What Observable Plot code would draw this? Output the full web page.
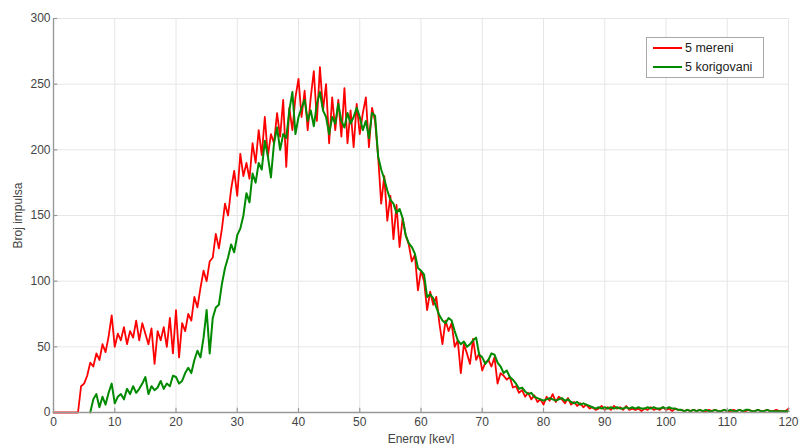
<!DOCTYPE html>
<html>
<head>
<meta charset="utf-8">
<script src="https://cdn.jsdelivr.net/npm/d3@7"></script>
<script src="https://cdn.jsdelivr.net/npm/@observablehq/plot@0.6"></script>
<style>
  html, body { margin: 0; padding: 0; background: #fff; }
  #wrap { position: relative; width: 800px; height: 444px; font-family: "Liberation Sans", Arial, sans-serif; }
  #legend { position: absolute; left: 646px; top: 37px; width: 116px; height: 39px; border: 1px solid #a8a8a8; background: #fff; font-size: 12.5px; color: #222; }
  #legend .row { position: absolute; left: 6px; height: 18px; line-height: 18px; white-space: nowrap; }
  #legend .sw { display: inline-block; width: 29px; height: 0; border-top: 2px solid; vertical-align: middle; margin-right: 3px; position: relative; top: -1px; }
</style>
</head>
<body>
<div id="wrap"><div id="chart"></div><div id="legend"></div></div>
<script>
// Energy grid: 0 .. 120 keV, step 0.5
const energyStep = 0.5;
const energyMax = 120;

const seriesNames = ["5 mereni", "5 korigovani"];
const seriesColors = ["#ff0000", "#008a00"];

// "5 mereni" (red), one value per 0.5 keV, rows of 5 keV
const mereni = [
  0,0,0,0,0,0,0,0,0,20,
  22,28,38,35,45,40,52,46,58,74,
  50,60,55,65,52,62,57,70,55,68,
  60,52,64,37,62,55,65,50,72,45,
  78,42,68,62,75,70,88,80,95,108,
  100,115,118,136,125,140,159,150,170,184,
  165,197,180,190,178,205,190,215,196,225,
  195,212,205,228,210,238,187,232,215,240,
  254,225,245,215,240,260,222,263,230,250,
  205,240,215,238,210,247,205,230,202,235,
  212,228,240,202,232,222,195,159,180,146,
  165,132,158,126,148,135,128,115,120,93,
  108,100,78,92,82,88,68,52,70,62,
  68,50,55,30,52,45,37,56,40,45,
  32,38,40,35,42,22,30,28,25,27,
  19,20,15,17,12,15,10,13,8,10,
  6,12,9,14,8,12,10,7,11,6,
  8,5,7,4,6,3,4,2,3,5,
  2,4,2,5,3,4,2,5,2,3,
  2,3,1,3,2,4,2,3,2,4,
  2,3,1,3,2,2,1,2,1,2,
  1,2,1,1,2,1,2,1,1,2,
  1,1,2,1,2,1,1,2,1,1,
  2,1,1,2,1,1,2,1,1,1,
  3
];

// "5 korigovani" (green), same grid, no data below 6 keV
const korigovani = [
  null,null,null,null,null,null,null,null,null,null,
  null,null,0,10,14,4,12,6,15,22,
  7,12,14,10,18,14,20,15,18,22,
  27,14,20,17,19,24,18,22,20,28,
  27,22,24,30,34,30,40,47,42,57,
  78,45,72,80,82,98,110,118,128,122,
  135,140,150,167,160,182,175,190,185,207,
  195,179,205,217,200,212,209,230,244,212,
  225,232,238,222,230,218,235,244,230,225,
  212,225,220,235,222,217,228,220,225,232,
  225,215,222,209,228,226,195,185,178,169,
  162,159,152,155,148,135,129,126,121,110,
  108,105,88,90,87,80,74,70,68,72,
  70,62,55,52,54,50,52,55,57,44,
  42,37,40,45,44,38,35,30,32,27,
  25,22,18,19,16,14,15,12,11,10,
  9,10,11,10,9,10,11,9,10,8,
  7,8,6,7,6,5,4,3,4,3,
  4,3,4,3,4,3,3,4,3,4,
  3,4,3,3,4,3,4,3,3,4,
  3,4,3,3,2,2,1,2,1,2,
  1,2,1,2,1,1,2,1,1,2,
  1,2,1,1,2,1,2,2,1,1,
  2,1,1,2,1,1,1,1,1,1,
  1
];

const xTicks = [0,10,20,30,40,50,60,70,80,90,100,110,120];
const yTicks = [0,50,100,150,200,250,300];

const rows = [];
[mereni, korigovani].forEach((vals, s) => {
  vals.forEach((v, i) => rows.push({series: seriesNames[s], energy: i * energyStep, count: v}));
});

const font = "Liberation Sans, Arial, sans-serif";

const chart = Plot.plot({
  width: 800,
  height: 444,
  marginLeft: 53,
  marginRight: 12,
  marginTop: 18,
  marginBottom: 32,
  style: {fontFamily: font, fontSize: "12px", color: "#444", background: "#fff"},
  x: {domain: [0, energyMax], ticks: xTicks},
  y: {domain: [0, 300], ticks: yTicks},
  color: {domain: seriesNames, range: seriesColors},
  marks: [
    Plot.gridX(xTicks, {stroke: "#e6e6e6", strokeOpacity: 1, strokeWidth: 1}),
    Plot.gridY(yTicks, {stroke: "#e6e6e6", strokeOpacity: 1, strokeWidth: 1}),
    Plot.line(rows.filter(d => d.series === seriesNames[0]), {x: "energy", y: "count", stroke: "series", strokeWidth: 1.8}),
    Plot.line(rows.filter(d => d.series === seriesNames[1]), {x: "energy", y: "count", stroke: "series", strokeWidth: 2}),
    Plot.ruleY([0], {stroke: "#999", strokeWidth: 1.4}),
    Plot.ruleX([0], {stroke: "#999", strokeWidth: 1.4}),
    Plot.ruleX(xTicks, {y1: 0, y2: 3.2, stroke: "#999", strokeWidth: 1.2}),
    Plot.ruleY(yTicks, {x1: 0, x2: 0.7, stroke: "#999", strokeWidth: 1.2}),
    Plot.axisX(xTicks, {tickSize: 0, tickPadding: 5, fontSize: 12, fill: "#444", label: "Energy [kev]", labelArrow: false, labelAnchor: "center", labelOffset: 30}),
    Plot.axisY(yTicks, {tickSize: 0, tickPadding: 3, fontSize: 12, fill: "#444", label: "Broj impulsa", labelArrow: false, labelAnchor: "center", labelOffset: 40})
  ]
});
document.getElementById("chart").appendChild(chart);

// Legend (HTML, above the SVG)
const legend = document.getElementById("legend");
seriesNames.forEach((name, i) => {
  const row = document.createElement("div");
  row.className = "row";
  row.style.top = (1 + i * 19) + "px";
  const sw = document.createElement("span");
  sw.className = "sw";
  sw.style.borderTopColor = seriesColors[i];
  row.appendChild(sw);
  row.appendChild(document.createTextNode(name));
  legend.appendChild(row);
});
</script>
</body>
</html>
